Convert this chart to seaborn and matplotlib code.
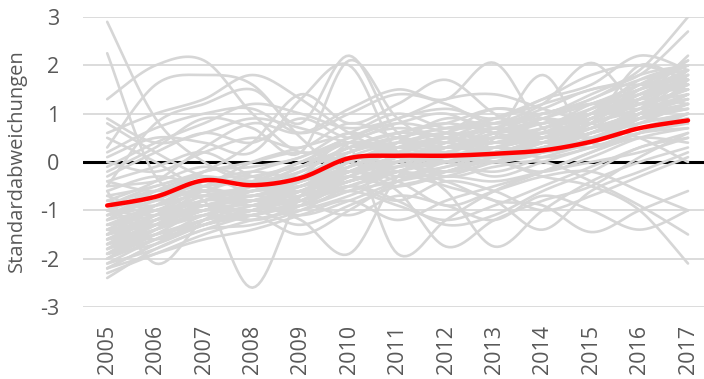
import numpy as np
import pandas as pd
import matplotlib
matplotlib.use("Agg")
import matplotlib.pyplot as plt
import seaborn as sns

# Years on the category axis
years = list(range(2005, 2018))
year_labels = [str(y) for y in years]
y_ticks = [-3, -2, -1, 0, 1, 2, 3]

# Mean of all indicators (standardised)
mean_values = [-0.90, -0.72, -0.38, -0.48, -0.33, 0.08, 0.13, 0.13, 0.17, 0.24, 0.42, 0.70, 0.86]

# Individual standardised indicators
s01 = [2.9, 0.9, 0.0, -0.4, -0.2, 0.3, 0.6, 0.5, 0.4, 0.7, 1.0, 1.4, 1.7]
s02 = [2.25, -0.3, -0.6, -0.5, -0.1, 0.4, 0.3, 0.2, 0.5, 0.4, 0.6, 1.1, 1.3]
s03 = [1.3, 2.0, 2.1, 1.0, 0.2, 0.5, 0.8, 0.6, 0.2, 0.4, 0.9, 1.3, 1.2]
s04 = [0.3, 1.6, 1.8, 1.6, 0.5, -0.2, 0.4, 0.9, 0.7, 0.5, 1.0, 1.7, 2.0]
s05 = [0.6, 1.0, 1.3, 1.8, 1.3, 0.6, 0.2, 0.6, 1.1, 0.9, 0.5, 0.9, 1.4]
s06 = [-0.5, 0.8, 1.2, 1.5, 0.8, 2.2, 0.6, 0.3, 0.6, 1.0, 1.2, 1.5, 1.9]
s07 = [-0.2, 0.3, 0.9, 0.7, 0.2, 2.1, 0.9, 0.4, 0.8, 0.6, 0.8, 2.0, 1.6]
s08 = [0.1, 0.5, 0.4, 0.2, 1.3, 2.0, 0.2, -0.2, 0.5, 1.8, 0.4, 0.8, 1.2]
s09 = [-1.2, -0.6, -0.2, 0.4, 1.4, 0.8, 1.2, 1.7, 1.0, 0.5, 0.9, 1.3, 2.2]
s10 = [-0.8, -0.4, 0.3, 0.8, 0.6, 1.1, 1.5, 1.3, 2.05, 0.7, 0.4, 1.0, 1.8]
s11 = [-1.5, -0.9, -0.5, 0.0, 0.3, 0.6, 1.0, 0.7, 0.8, 1.2, 2.05, 1.2, 1.6]
s12 = [-1.0, -0.7, -0.6, -0.2, 0.1, 0.5, 0.9, 1.1, 0.9, 1.3, 1.6, 2.2, 1.9]
s13 = [-1.4, -1.0, -0.8, -0.5, -0.1, 0.3, 0.6, 0.8, 1.1, 1.0, 1.4, 1.9, 3.0]
s14 = [-1.1, -0.9, -0.5, -0.4, 0.0, 0.2, 0.5, 0.7, 0.9, 1.2, 1.5, 1.8, 2.7]
s15 = [-0.6, -2.1, -1.2, -0.8, -0.6, -0.3, 0.1, 0.3, 0.2, 0.5, 0.7, 0.9, 1.1]
s16 = [-1.3, -1.0, -0.8, -2.6, -0.7, -0.2, 0.0, 0.3, 0.5, 0.4, 0.7, 1.0, 1.3]
s17 = [-1.7, -1.4, -1.0, -0.9, -1.2, -1.9, -0.3, 0.2, 0.0, 0.3, 0.6, 0.9, 0.8]
s18 = [-0.9, -0.6, -0.7, -0.5, -0.3, 0.3, -1.9, -1.2, -0.6, -0.2, 0.2, 0.5, 0.4]
s19 = [-2.0, -1.6, -1.1, -0.9, -0.5, -0.2, -0.6, -1.75, -1.2, -0.8, -0.5, 0.1, 0.6]
s20 = [-1.6, -1.2, -0.9, -0.8, -0.6, -0.3, 0.0, -0.6, -1.75, -1.0, -0.4, 0.0, 0.3]
s21 = [-0.4, -0.1, 0.2, -0.3, -0.5, 0.1, -0.2, -0.5, -0.8, -1.4, -0.6, -0.2, 0.2]
s22 = [-1.9, -1.5, -1.2, -1.0, -0.7, -0.4, -0.2, -0.4, -0.8, -0.9, -1.45, -1.0, -0.6]
s23 = [-0.7, -0.5, -0.2, 0.0, 0.2, 0.0, -0.3, -0.2, 0.0, -0.3, -0.5, -1.0, -2.1]
s24 = [0.8, 0.2, -0.3, -0.4, 0.0, 0.4, 0.1, -0.3, -0.1, 0.0, -0.4, -0.9, -1.5]
s25 = [0.5, 0.0, -0.6, -0.9, -0.6, -0.2, -0.4, -0.9, -0.6, -0.3, -0.2, -0.6, -1.0]
s26 = [-2.4, -1.8, -1.4, -1.1, -0.9, -0.5, -0.8, -1.3, -1.1, -0.6, -0.2, 0.3, 0.5]
s27 = [-1.8, -1.5, -1.3, -1.1, -1.5, -1.0, -0.4, 0.0, 0.2, 0.4, 0.6, 0.9, 1.1]
s28 = [-2.2, -1.7, -1.2, -0.9, -0.6, -0.2, 0.1, 0.3, 0.4, 0.6, 0.9, 1.3, 1.6]
s29 = [-2.0, -1.5, -1.0, -1.0, -0.7, -0.1, 0.2, 0.1, 0.3, 0.5, 0.8, 1.2, 1.7]
s30 = [-1.9, -1.6, -1.3, -1.1, -0.8, -0.4, -0.1, 0.0, 0.2, 0.3, 0.6, 1.0, 1.4]
s31 = [-1.8, -1.2, -0.8, -0.7, -0.4, 0.0, 0.3, 0.5, 0.4, 0.6, 1.1, 1.5, 1.8]
s32 = [-1.7, -1.3, -0.9, -1.2, -0.9, -0.3, 0.0, 0.2, 0.1, 0.2, 0.5, 0.8, 1.0]
s33 = [-1.6, -1.1, -0.7, -0.6, -0.5, 0.1, 0.4, 0.6, 0.5, 0.8, 0.9, 1.4, 1.5]
s34 = [-1.5, -1.3, -1.1, -0.8, -0.9, -0.6, -0.2, 0.1, 0.3, 0.2, 0.4, 0.7, 0.9]
s35 = [-1.4, -1.2, -0.6, -0.7, -0.3, 0.2, 0.5, 0.3, 0.6, 0.9, 1.2, 1.6, 2.0]
s36 = [-1.3, -0.9, -0.7, -0.9, -0.6, -0.4, 0.0, 0.4, 0.7, 0.5, 0.8, 1.1, 1.3]
s37 = [-1.2, -1.0, -1.0, -0.6, -0.4, -0.1, 0.2, 0.0, -0.2, 0.1, 0.4, 0.9, 1.2]
s38 = [-1.1, -0.8, -0.4, -0.5, -0.7, 0.0, 0.3, 0.5, 0.4, 0.7, 1.0, 1.2, 1.5]
s39 = [-1.0, -1.1, -0.9, -0.7, -0.5, -0.3, -0.5, -0.2, 0.1, 0.3, 0.6, 0.8, 1.0]
s40 = [-0.9, -0.5, -0.3, -0.6, -0.2, 0.3, 0.6, 0.8, 0.6, 0.4, 0.7, 1.3, 1.7]
s41 = [-0.8, -0.9, -0.6, -0.3, -0.1, 0.1, -0.1, 0.2, 0.4, 0.6, 0.5, 0.7, 0.9]
s42 = [-0.6, -0.3, -0.5, -0.7, -0.4, 0.0, 0.4, 0.6, 0.9, 0.8, 1.1, 1.4, 1.6]
s43 = [-2.3, -1.9, -1.5, -1.2, -1.0, -0.7, -0.3, -0.1, 0.2, 0.4, 0.7, 1.0, 1.2]
s44 = [-2.1, -1.8, -1.4, -1.3, -1.0, -0.5, -0.2, 0.0, -0.3, 0.0, 0.3, 0.6, 0.8]
s45 = [-1.9, -1.4, -0.9, -0.8, -0.8, -0.3, 0.1, -0.2, 0.0, 0.2, 0.8, 1.1, 1.9]
s46 = [-1.7, -1.5, -1.2, -1.0, -0.6, -0.1, 0.2, 0.4, 0.2, 0.5, 0.7, 1.0, 1.4]
s47 = [-1.6, -1.4, -1.0, -0.9, -1.1, -0.8, -0.4, -0.1, 0.0, -0.2, 0.1, 0.5, 0.7]
s48 = [-1.3, -1.1, -0.8, -0.8, -0.6, -0.2, 0.1, 0.3, 0.5, 0.4, 0.6, 1.0, 1.1]
s49 = [-1.2, -0.7, -0.5, -0.4, -0.2, 0.3, 0.2, 0.1, 0.3, 0.6, 0.9, 1.4, 1.8]
s50 = [-0.3, 0.2, 0.6, 0.4, 0.9, 0.5, 0.8, 1.0, 0.6, 0.9, 1.3, 1.7, 1.9]
s51 = [0.2, 0.7, 1.0, 1.1, 0.6, 1.0, 1.4, 1.2, 0.8, 1.1, 1.5, 1.6, 1.5]
s52 = [0.9, 0.4, 0.6, 0.9, 0.7, 0.4, 0.3, 0.5, 0.9, 1.3, 1.8, 2.0, 1.7]
s53 = [-0.1, 0.4, 0.8, 1.2, 1.0, 0.7, 0.9, 1.3, 1.4, 1.1, 0.8, 0.5, 0.0]
s54 = [-1.4, -1.6, -1.3, -1.0, -0.8, -0.6, -0.9, -1.2, -0.9, -0.5, -0.1, 0.3, 0.6]
s55 = [-1.0, -1.3, -1.1, -1.2, -0.9, -0.5, -0.8, -0.4, -0.6, -1.0, -0.7, -0.3, 0.1]
s56 = [-0.7, -1.0, -0.8, -0.5, -0.8, -1.1, -0.7, -0.9, -1.2, -0.7, -1.0, -1.4, -1.0]
s57 = [-2.2, -1.9, -1.6, -1.4, -1.1, -0.8, -1.2, -0.8, -0.5, -0.2, 0.2, 0.6, 0.9]
s58 = [-1.9, -1.7, -1.3, -1.0, -1.3, -0.9, -0.5, -0.3, 0.0, 0.3, 0.4, 0.7, 1.0]
s59 = [-1.5, -1.0, -0.9, -1.0, -0.7, -0.4, 0.0, 0.3, 0.6, 0.8, 1.0, 1.3, 1.6]
s60 = [0.0, -0.2, 0.2, 0.5, 0.3, 0.8, 0.5, 0.3, 0.7, 1.0, 1.2, 1.1, 1.4]
s61 = [-1.8, -1.3, -0.7, -0.9, -0.6, -0.4, -0.1, 0.3, 0.5, 0.7, 0.9, 1.2, 1.5]
s62 = [-2.0, -1.4, -0.8, -0.6, -0.3, 0.2, 0.4, 0.3, 0.5, 0.6, 0.8, 1.5, 2.0]
s63 = [-1.7, -1.1, -0.6, -0.8, -0.5, -0.2, 0.3, 0.6, 0.4, 0.5, 1.0, 1.3, 1.8]
s64 = [-1.5, -1.1, -0.8, -0.5, -0.3, 0.1, 0.0, 0.4, 0.7, 0.9, 0.8, 1.2, 1.4]
s65 = [-1.4, -0.9, -0.4, -0.3, -0.4, 0.4, 0.7, 0.5, 0.3, 0.6, 1.1, 1.6, 1.7]
s66 = [-1.2, -0.8, -0.9, -0.6, -0.5, -0.2, 0.1, 0.2, 0.5, 0.7, 1.2, 1.5, 2.1]
s67 = [-1.0, -0.6, -0.4, -0.2, -0.3, 0.2, 0.5, 0.7, 0.8, 1.0, 1.3, 1.8, 2.0]
s68 = [-0.9, -0.7, -0.2, -0.1, 0.1, 0.6, 0.3, 0.4, 0.2, 0.5, 0.9, 1.3, 1.6]
s69 = [-1.8, -1.4, -1.1, -0.8, -0.7, -0.5, -0.2, 0.0, 0.3, 0.5, 0.9, 1.4, 1.9]
s70 = [-2.1, -1.6, -1.2, -1.1, -0.8, -0.3, 0.0, 0.2, 0.0, 0.2, 0.6, 1.1, 1.5]
s71 = [-1.3, -1.2, -0.9, -0.7, -0.8, -0.4, -0.2, 0.1, 0.3, 0.1, 0.3, 0.6, 0.7]
s72 = [-0.5, -0.4, -0.1, -0.3, 0.0, 0.4, 0.2, 0.0, 0.2, 0.4, 0.3, 0.6, 1.0]
s73 = [-1.6, -1.3, -0.8, -0.6, -0.4, -0.1, 0.2, 0.5, 0.7, 0.6, 0.9, 1.5, 1.6]
s74 = [-1.1, -0.7, -0.7, -0.8, -0.4, 0.0, 0.3, 0.2, 0.1, 0.4, 0.7, 1.0, 1.3]
s75 = [-2.2, -1.7, -1.3, -1.0, -0.9, -0.6, -0.4, -0.2, 0.1, 0.2, 0.5, 0.9, 1.2]
s76 = [-0.4, -0.6, -0.3, -0.5, -0.6, -0.3, -0.5, -0.3, -0.4, -0.2, 0.0, 0.2, 0.5]
s77 = [-1.5, -1.2, -1.0, -1.1, -0.8, -0.2, -0.1, 0.1, 0.0, 0.3, 0.6, 0.9, 1.7]
s78 = [-1.9, -1.3, -1.0, -0.7, -0.6, -0.2, 0.1, 0.3, 0.6, 0.8, 1.0, 1.6, 2.1]

indicators = [s01, s02, s03, s04, s05, s06, s07, s08, s09, s10,
              s11, s12, s13, s14, s15, s16, s17, s18, s19, s20,
              s21, s22, s23, s24, s25, s26, s27, s28, s29, s30,
              s31, s32, s33, s34, s35, s36, s37, s38, s39, s40,
              s41, s42, s43, s44, s45, s46, s47, s48, s49, s50,
              s51, s52, s53, s54, s55, s56, s57, s58, s59, s60,
              s61, s62, s63, s64, s65, s66, s67, s68, s69, s70,
              s71, s72, s73, s74, s75, s76, s77, s78]


def smoothed(xs, ys, steps=16):
    """Spreadsheet-style smoothed line: cubic Bezier segments with 1/6 tangents."""
    x = np.asarray(xs, float)
    y = np.asarray(ys, float)
    px = np.concatenate([[x[0]], x, [x[-1]]])
    py = np.concatenate([[y[0]], y, [y[-1]]])
    out_x, out_y = [], []
    for i in range(len(x) - 1):
        x0, x1, x2, x3 = px[i:i + 4]
        y0, y1, y2, y3 = py[i:i + 4]
        cx1, cy1 = x1 + (x2 - x0) / 6, y1 + (y2 - y0) / 6
        cx2, cy2 = x2 - (x3 - x1) / 6, y2 - (y3 - y1) / 6
        t = np.linspace(0, 1, steps, endpoint=(i == len(x) - 2))
        a, b, c, d = (1 - t) ** 3, 3 * (1 - t) ** 2 * t, 3 * (1 - t) * t ** 2, t ** 3
        out_x.append(a * x1 + b * cx1 + c * cx2 + d * x2)
        out_y.append(a * y1 + b * cy1 + c * cy2 + d * y2)
    return np.concatenate(out_x), np.concatenate(out_y)


frames = []
for k, series in enumerate(indicators):
    sx, sy = smoothed(years, series)
    frames.append(pd.DataFrame({"Jahr": sx, "Wert": sy, "Indikator": k}))
grey_df = pd.concat(frames, ignore_index=True)

mx, my = smoothed(years, mean_values)
mean_df = pd.DataFrame({"Jahr": mx, "Wert": my})

sns.set_style("white")
plt.rcParams["font.family"] = ["Open Sans", "DejaVu Sans"]

fig = plt.figure(figsize=(7.04, 3.79), dpi=100)
ax = fig.add_axes([83 / 704, 1 - 307 / 379, (704 - 83) / 704, 290 / 379])

grid_col = "#d9d9d9"
text_col = "#595959"

for v in y_ticks:
    if v != 0:
        ax.axhline(v, color=grid_col, lw=1.3, zorder=0)
ax.axhline(0, color="black", lw=2.2, zorder=1)

sns.lineplot(data=grey_df, x="Jahr", y="Wert", units="Indikator", estimator=None,
             color="#d6d6d6", lw=1.9, sort=False, legend=False, ax=ax, zorder=2)
sns.lineplot(data=mean_df, x="Jahr", y="Wert", color="#ff0000", lw=3.2,
             sort=False, legend=False, ax=ax, zorder=3)

ax.set_xlim(2004.5, 2017 + 16 / 48.4)
ax.set_ylim(-3, 3)
ax.set_xticks(years)
ax.set_xticklabels(year_labels, rotation=90, fontsize=15.5, color=text_col)
ax.set_yticks(y_ticks)
ax.set_yticklabels([str(v) for v in y_ticks], fontsize=15.5, color=text_col)
ax.tick_params(axis="y", length=0, pad=17)
ax.tick_params(axis="x", length=0, pad=13)
for sp in ax.spines.values():
    sp.set_visible(False)
ax.set_xlabel("")
ax.set_ylabel("")
fig.text(17 / 704, 1 - 161 / 379, "Standardabweichungen", rotation=90,
         ha="center", va="center", fontsize=14.5, color=text_col)

fig.savefig("out.png", dpi=100)
